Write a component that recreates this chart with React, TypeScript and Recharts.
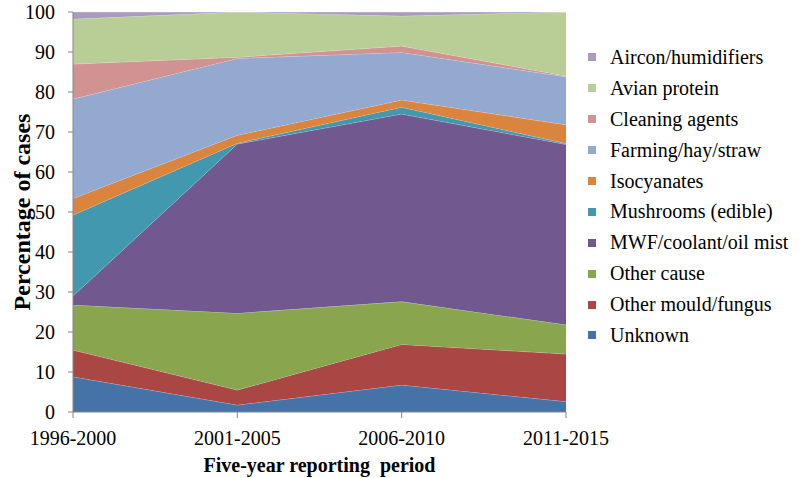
import React from 'react';
import { AreaChart, Area, XAxis, YAxis, Legend, Label } from 'recharts';

const periods = ['1996-2000', '2001-2005', '2006-2010', '2011-2015'];

const unknown = [8.8, 1.75, 6.75, 2.6];
const otherMould = [6.7, 3.75, 10.15, 11.9];
const otherCause = [11.25, 19.2, 10.7, 7.3];
const mwf = [2.25, 42.3, 46.9, 45.1];
const mushrooms = [20.25, 0.2, 1.7, 0.2];
const isocyanates = [4.15, 2.0, 1.8, 4.7];
const farming = [24.85, 19.2, 11.9, 12.0];
const cleaning = [8.75, 0.3, 1.6, 0.2];
const avian = [11.25, 11.3, 7.5, 16.0];
const aircon = [1.75, 0, 1.0, 0];

const yTicks = [0, 10, 20, 30, 40, 50, 60, 70, 80, 90, 100];

const seriesList = [
  { key: 'unknown', name: 'Unknown', values: unknown, color: '#4572A7' },
  { key: 'otherMould', name: 'Other mould/fungus', values: otherMould, color: '#AA4643' },
  { key: 'otherCause', name: 'Other cause', values: otherCause, color: '#89A54E' },
  { key: 'mwf', name: 'MWF/coolant/oil mist', values: mwf, color: '#71588F' },
  { key: 'mushrooms', name: 'Mushrooms (edible)', values: mushrooms, color: '#4198AF' },
  { key: 'isocyanates', name: 'Isocyanates', values: isocyanates, color: '#DB843D' },
  { key: 'farming', name: 'Farming/hay/straw', values: farming, color: '#93A9CF' },
  { key: 'cleaning', name: 'Cleaning agents', values: cleaning, color: '#D19392' },
  { key: 'avian', name: 'Avian protein', values: avian, color: '#B9CD96' },
  { key: 'aircon', name: 'Aircon/humidifiers', values: aircon, color: '#A99BBD' },
];

const data = periods.map((p, i) => {
  const row: Record<string, any> = { period: p };
  seriesList.forEach((s) => {
    row[s.key] = s.values[i];
  });
  return row;
});

const FONT = '"Liberation Serif", "Times New Roman", serif';

const renderLegend = () => {
  const items = seriesList.slice().reverse();
  return (
    <div style={{ fontFamily: FONT, fontSize: 20, color: '#000' }}>
      {items.map((s) => (
        <div
          key={s.key}
          style={{ display: 'flex', alignItems: 'center', height: 30.9, whiteSpace: 'nowrap' }}
        >
          <span
            style={{
              display: 'inline-block',
              width: 8,
              height: 8,
              background: s.color,
              marginRight: 14,
            }}
          />
          <span>{s.name}</span>
        </div>
      ))}
    </div>
  );
};

export default function App() {
  return (
    <div style={{ position: 'absolute', left: 0, top: 0, width: 800, height: 478, background: '#fff' }}>
      <AreaChart
        width={800}
        height={478}
        data={data}
        margin={{ top: 12, right: 234, bottom: 36, left: 0 }}
      >
        <XAxis
          dataKey="period"
          height={30}
          axisLine={{ stroke: '#868686' }}
          tickLine={{ stroke: '#868686' }}
          tickSize={6}
          tickMargin={13}
          tick={{ fill: '#000', fontSize: 20, fontFamily: FONT }}
          interval={0}
        >
          <Label
            content={(p: any) => {
              const vb = p.viewBox || {};
              return (
                <text
                  x={vb.x + vb.width / 2}
                  y={vb.y + vb.height + 30}
                  textAnchor="middle"
                  style={{ whiteSpace: 'pre' }}
                  fontFamily={FONT}
                  fontSize={20}
                  fontWeight="bold"
                  fill="#000"
                >
                  {'Five-year reporting  period'}
                </text>
              );
            }}
          />
        </XAxis>
        <YAxis
          width={73}
          domain={[0, 100]}
          ticks={yTicks}
          interval={0}
          allowDataOverflow
          axisLine={{ stroke: '#868686' }}
          tickLine={{ stroke: '#868686' }}
          tickSize={5}
          tickMargin={13}
          tick={{ fill: '#000', fontSize: 20, fontFamily: FONT }}
        >
          <Label
            content={(p: any) => {
              const vb = p.viewBox || {};
              const cx = 22;
              const cy = vb.y + vb.height / 2;
              return (
                <text
                  x={cx}
                  y={cy}
                  transform={`rotate(-90, ${cx}, ${cy})`}
                  textAnchor="middle"
                  dominantBaseline="central"
                  fontFamily={FONT}
                  fontSize={24}
                  fontWeight="bold"
                  fill="#000"
                >
                  Percentage of cases
                </text>
              );
            }}
          />
        </YAxis>
        <Legend
          layout="vertical"
          align="center"
          verticalAlign="middle"
          content={renderLegend}
          wrapperStyle={{ position: 'absolute', left: 588, top: 42, width: 212 }}
        />
        {seriesList.map((s) => (
          <Area
            key={s.key}
            type="linear"
            dataKey={s.key}
            name={s.name}
            stackId="1"
            fill={s.color}
            fillOpacity={1}
            stroke="#ffffff"
            strokeOpacity={0.45}
            strokeWidth={0.8}
            isAnimationActive={false}
            dot={false}
            activeDot={false}
          />
        ))}
      </AreaChart>
    </div>
  );
}
